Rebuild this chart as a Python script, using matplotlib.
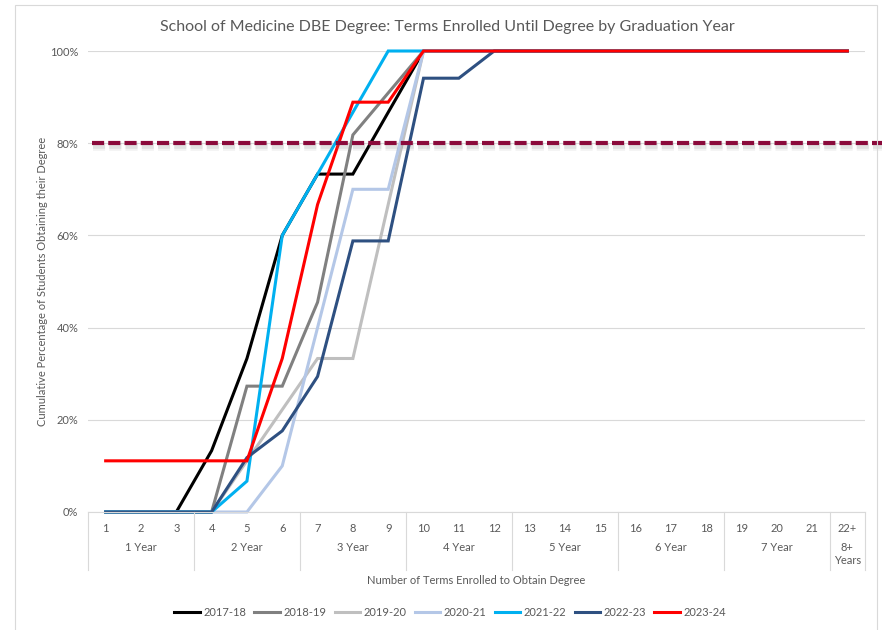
import matplotlib
matplotlib.use("Agg")
from matplotlib import pyplot as plt
from matplotlib.patches import Rectangle
import matplotlib.patheffects as pe
import matplotlib.transforms as mtransforms

plt.rcParams['font.family'] = ['Lato', 'DejaVu Sans']

# terms 1..22 (22 = 22+)
terms = list(range(1, 23))
term_labels = [str(t) for t in range(1, 22)] + ["22+"]
groups = ["1 Year", "2 Year", "3 Year", "4 Year", "5 Year", "6 Year", "7 Year", "8+\nYears"]
group_centers = [2, 5, 8, 11, 14, 17, 20, 22]
group_edges = [0.5, 3.5, 6.5, 9.5, 12.5, 15.5, 18.5, 21.5, 22.5]

y_2017 = [0, 0, 0, 0.133, 0.333, 0.600, 0.733, 0.733, 0.867, 1, 1, 1, 1, 1, 1, 1, 1, 1, 1, 1, 1, 1]
y_2018 = [0, 0, 0, 0, 0.273, 0.273, 0.455, 0.818, 0.909, 1, 1, 1, 1, 1, 1, 1, 1, 1, 1, 1, 1, 1]
y_2019 = [0, 0, 0, 0, 0.111, 0.222, 0.333, 0.333, 0.667, 1, 1, 1, 1, 1, 1, 1, 1, 1, 1, 1, 1, 1]
y_2020 = [0, 0, 0, 0, 0, 0.100, 0.400, 0.700, 0.700, 1, 1, 1, 1, 1, 1, 1, 1, 1, 1, 1, 1, 1]
y_2021 = [0, 0, 0, 0, 0.067, 0.600, 0.733, 0.867, 1, 1, 1, 1, 1, 1, 1, 1, 1, 1, 1, 1, 1, 1]
y_2022 = [0, 0, 0, 0, 0.118, 0.176, 0.294, 0.588, 0.588, 0.941, 0.941, 1, 1, 1, 1, 1, 1, 1, 1, 1, 1, 1]
y_2023 = [0.111, 0.111, 0.111, 0.111, 0.111, 0.333, 0.667, 0.889, 0.889, 1, 1, 1, 1, 1, 1, 1, 1, 1, 1, 1, 1, 1]

series = [("2017-18", y_2017, "#000000"),
          ("2018-19", y_2018, "#808080"),
          ("2019-20", y_2019, "#BFBFBF"),
          ("2020-21", y_2020, "#B4C7E7"),
          ("2021-22", y_2021, "#00B0F0"),
          ("2022-23", y_2022, "#2E5081"),
          ("2023-24", y_2023, "#FF0000")]

target = 0.8
txt = "#595959"
grid_c = "#D9D9D9"

fig = plt.figure(figsize=(8.82, 6.3), dpi=100)
ax = fig.add_axes([88 / 882, 1 - 512 / 630, 777 / 882, 461 / 630])

for name, ys, col in series:
    ax.plot(terms, ys, color=col, lw=2.2, label=name, solid_joinstyle='miter', clip_on=False)

ax.set_xlim(0.5, 22.5)
ax.set_ylim(0, 1)
ax.set_yticks([0, 0.2, 0.4, 0.6, 0.8, 1.0])
ax.set_yticklabels(["0%", "20%", "40%", "60%", "80%", "100%"])
ax.set_xticks(terms)
ax.set_xticklabels(term_labels)
ax.tick_params(axis='both', length=0, labelsize=8, labelcolor=txt)
ax.tick_params(axis='y', pad=7)
ax.tick_params(axis='x', pad=8)
ax.grid(axis='y', color=grid_c, lw=0.8)
ax.set_axisbelow(True)
for s in ["top", "left", "right"]:
    ax.spines[s].set_visible(False)
ax.spines["bottom"].set_color(grid_c)
ax.spines["bottom"].set_linewidth(0.8)

# category grouping under the axis
trans = mtransforms.blended_transform_factory(ax.transData, ax.transAxes)
for e in group_edges:
    ax.plot([e, e], [0, -58 / 461], transform=trans, color=grid_c, lw=0.8, clip_on=False)
for g, c in zip(groups, group_centers):
    ax.text(c, -30 / 461, g, transform=trans, ha='center', va='top', fontsize=8,
            color=txt, linespacing=1.25)

ax.text(0.5, -68 / 461, "Number of Terms Enrolled to Obtain Degree", transform=ax.transAxes,
        ha='center', va='center', fontsize=8, color=txt)
ax.set_ylabel("Cumulative Percentage of Students Obtaining their Degree", fontsize=8, color=txt)
ax.yaxis.set_label_coords(-40 / 777, 0.5)

# 80% target line
trans2 = mtransforms.blended_transform_factory(ax.transAxes, ax.transData)
ax.plot([4 / 777, 794 / 777], [target, target], transform=trans2, color="#8B0A3B", lw=3,
        dashes=(2.9, 1.0), clip_on=False, zorder=5,
        path_effects=[pe.SimpleLineShadow(offset=(0.5, -2), shadow_color='gray', alpha=0.1, linewidth=7),
                      pe.SimpleLineShadow(offset=(0.5, -2), shadow_color='gray', alpha=0.15, linewidth=4),
                      pe.Normal()])

fig.suptitle("School of Medicine DBE Degree: Terms Enrolled Until Degree by Graduation Year",
             x=0.507, y=1 - 27 / 630, va='center', fontsize=11.5, color=txt)

ax.legend(loc='center', bbox_to_anchor=(0.466, -(612 - 512) / 461), ncol=7, frameon=False,
          fontsize=8, labelcolor=txt, handlelength=2.3, handletextpad=0.3, columnspacing=0.75)

fig.add_artist(Rectangle((15 / 882, -0.02), 862 / 882, 1 - 5 / 630 + 0.02, transform=fig.transFigure,
                         fill=False, ec=grid_c, lw=0.8))

fig.savefig("out.png", dpi=100)
